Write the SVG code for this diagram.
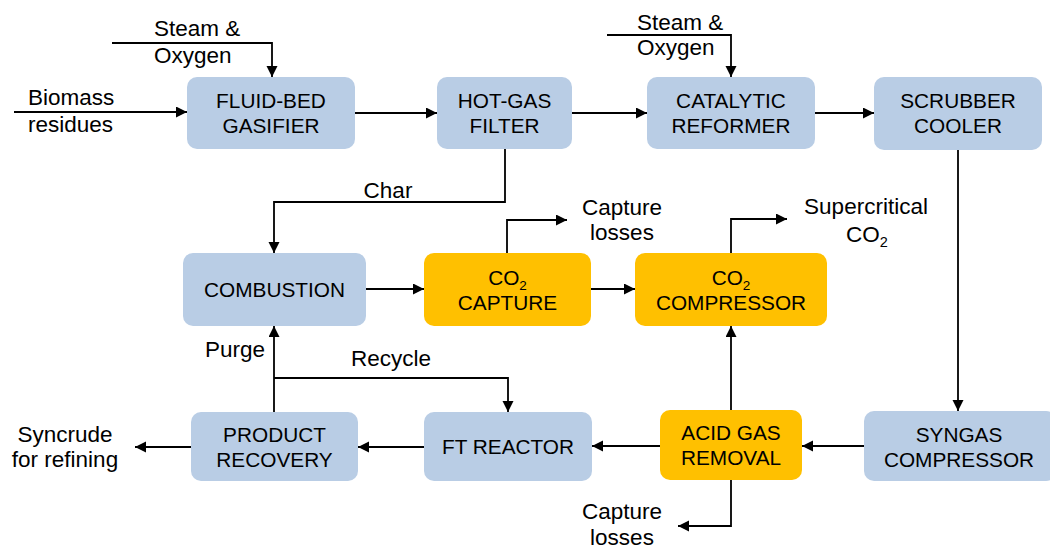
<svg xmlns="http://www.w3.org/2000/svg" width="1050" height="549" viewBox="0 0 1050 549">
<style>
.blue{fill:#B9CDE5}
.orange{fill:#FFC000}
text{font-family:"Liberation Sans",Arial,sans-serif;font-size:20.8px;fill:#000}
.lb{font-size:22.5px}
.c{text-anchor:middle}
.sub{font-size:13.5px}
.lsub{font-size:14.5px}
.ln{fill:none;stroke:#000;stroke-width:1.8;marker-end:url(#ah)}
</style>
<defs>
<marker id="ah" markerUnits="userSpaceOnUse" markerWidth="12" markerHeight="12" refX="11" refY="5.5" orient="auto">
<path d="M0,0 L11,5.5 L0,11 z" fill="#000"/>
</marker>
</defs>
<rect width="1050" height="549" fill="#fff"/>

<g id="connectors">
<path class="ln" d="M14,112 H187"/>
<path class="ln" d="M112,43 H272 V77"/>
<path class="ln" d="M355,113 H437"/>
<path class="ln" d="M572,113 H647"/>
<path class="ln" d="M607,35 H731 V77"/>
<path class="ln" d="M815,113 H874"/>
<path class="ln" d="M958,150 V411"/>
<path class="ln" d="M505,149 V202 H274 V253"/>
<path class="ln" d="M366,289 H424"/>
<path class="ln" d="M507,253 V220 H567"/>
<path class="ln" d="M591,289 H635"/>
<path class="ln" d="M731,253 V219 H787"/>
<path class="ln" d="M864,446 H802"/>
<path class="ln" d="M731,410 V326"/>
<path class="ln" d="M731,480 V526 H678"/>
<path class="ln" d="M660,446 H592"/>
<path class="ln" d="M424,447 H358"/>
<path class="ln" d="M191,447 H135"/>
<path class="ln" d="M274,412 V326"/>
<path class="ln" d="M274,378 H508 V412"/>
</g>

<g id="labels">
<text class="lb" x="154" y="36">Steam &amp;</text>
<text class="lb" x="154" y="63">Oxygen</text>
<text class="lb" x="28" y="105">Biomass</text>
<text class="lb" x="28" y="132">residues</text>
<text class="lb" x="637" y="30">Steam &amp;</text>
<text class="lb" x="637" y="55">Oxygen</text>
<text class="lb c" x="388" y="198">Char</text>
<text class="lb c" x="622" y="215">Capture</text>
<text class="lb c" x="622" y="240">losses</text>
<text class="lb c" x="866" y="214">Supercritical</text>
<text class="lb c" x="867" y="242">CO<tspan class="lsub" dy="5">2</tspan></text>
<text class="lb" x="205" y="357">Purge</text>
<text class="lb c" x="391" y="366">Recycle</text>
<text class="lb c" x="65" y="442">Syncrude</text>
<text class="lb c" x="65" y="467">for refining</text>
<text class="lb c" x="622" y="519">Capture</text>
<text class="lb c" x="622" y="545">losses</text>
</g>

<g id="gasifier">
<rect class="blue" x="187" y="77" width="168" height="72" rx="10"/>
<text class="c" x="271" y="108">FLUID-BED</text>
<text class="c" x="271" y="133">GASIFIER</text>
</g>
<g id="hotgas">
<rect class="blue" x="437" y="77" width="135" height="72" rx="10"/>
<text class="c" x="504.5" y="108">HOT-GAS</text>
<text class="c" x="504.5" y="133">FILTER</text>
</g>
<g id="reformer">
<rect class="blue" x="647" y="77" width="168" height="72" rx="10"/>
<text class="c" x="731" y="108">CATALYTIC</text>
<text class="c" x="731" y="133">REFORMER</text>
</g>
<g id="scrubber">
<rect class="blue" x="874" y="77" width="168" height="73" rx="10"/>
<text class="c" x="958" y="108">SCRUBBER</text>
<text class="c" x="958" y="133">COOLER</text>
</g>
<g id="combustion">
<rect class="blue" x="183" y="253" width="183" height="73" rx="10"/>
<text class="c" x="274.5" y="297">COMBUSTION</text>
</g>
<g id="co2capture">
<rect class="orange" x="424" y="253" width="167" height="73" rx="10"/>
<text class="c" x="507.5" y="285">CO<tspan class="sub" dy="5">2</tspan></text>
<text class="c" x="507.5" y="310">CAPTURE</text>
</g>
<g id="co2compressor">
<rect class="orange" x="635" y="253" width="192" height="73" rx="10"/>
<text class="c" x="731" y="285">CO<tspan class="sub" dy="5">2</tspan></text>
<text class="c" x="731" y="310">COMPRESSOR</text>
</g>
<g id="product">
<rect class="blue" x="191" y="412" width="167" height="69" rx="10"/>
<text class="c" x="274.5" y="442">PRODUCT</text>
<text class="c" x="274.5" y="467">RECOVERY</text>
</g>
<g id="ftreactor">
<rect class="blue" x="424" y="412" width="168" height="69" rx="10"/>
<text class="c" x="508" y="454">FT REACTOR</text>
</g>
<g id="acidgas">
<rect class="orange" x="660" y="410" width="142" height="70" rx="10"/>
<text class="c" x="731" y="440">ACID GAS</text>
<text class="c" x="731" y="465">REMOVAL</text>
</g>
<g id="syngas">
<rect class="blue" x="864" y="411" width="192" height="70" rx="10"/>
<text class="c" x="959" y="442">SYNGAS</text>
<text class="c" x="959" y="467">COMPRESSOR</text>
</g>
</svg>
